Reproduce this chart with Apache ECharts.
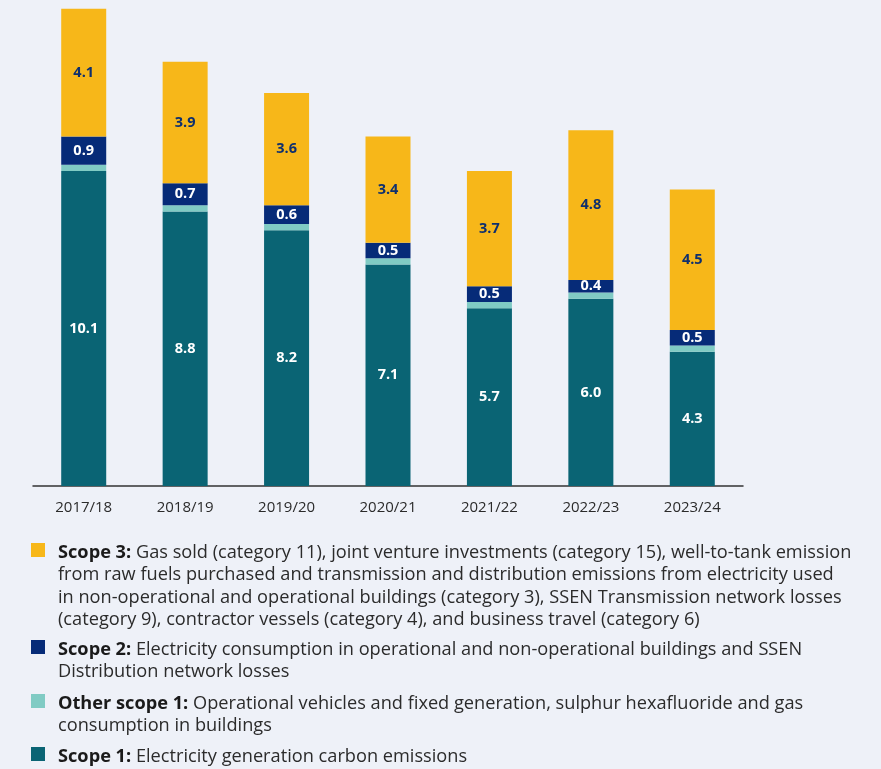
<!DOCTYPE html>
<html lang="en">
<head>
<meta charset="UTF-8">
<title>Emissions</title>
<style type="text/css">
  html, body { margin: 0; padding: 0; background: #eef1f8; }
  #main { width: 881px; height: 769px; }
</style>
<script src="https://cdn.jsdelivr.net/npm/echarts@6/dist/echarts.min.js"></script>
</head>
<body>
<div id="main"></div>
<script type="text/javascript">
var years = ['2017/18', '2018/19', '2019/20', '2020/21', '2021/22', '2022/23', '2023/24'];
var scope1 = [10.1, 8.8, 8.2, 7.1, 5.7, 6.0, 4.3];
var otherScope1 = [0.2, 0.2, 0.2, 0.2, 0.2, 0.2, 0.2];
var scope2 = [0.9, 0.7, 0.6, 0.5, 0.5, 0.4, 0.5];
var scope3 = [4.1, 3.9, 3.6, 3.4, 3.7, 4.8, 4.5];

var legendItems = [
  { color: '#f7b719', bold: 'Scope 3:', text: [
    ' Gas sold (category 11), joint venture investments (category 15), well-to-tank emission',
    'from raw fuels purchased and transmission and distribution emissions from electricity used',
    'in non-operational and operational buildings (category 3), SSEN Transmission network losses',
    '(category 9), contractor vessels (category 4), and business travel (category 6)'], y: 551 },
  { color: '#062b78', bold: 'Scope 2:', text: [
    ' Electricity consumption in operational and non-operational buildings and SSEN',
    'Distribution network losses'], y: 648 },
  { color: '#80cbc4', bold: 'Other scope 1:', text: [
    ' Operational vehicles and fixed generation, sulphur hexafluoride and gas',
    'consumption in buildings'], y: 702 },
  { color: '#0a6474', bold: 'Scope 1:', text: [
    ' Electricity generation carbon emissions'], y: 755 }
];

var font = '"Open Sans", sans-serif';
var graphics = [];
legendItems.forEach(function (it) {
  graphics.push({
    type: 'rect', left: 31, top: it.y - 8,
    shape: { width: 14, height: 14 },
    style: { fill: it.color }
  });
  var str = '{b|' + it.bold + '}{t|' + it.text[0] + '}';
  for (var i = 1; i < it.text.length; i++) str += '\n{t|' + it.text[i] + '}';
  graphics.push({
    type: 'text', left: 58, top: it.y - 7,
    style: {
      text: str,
      rich: {
        b: { fontFamily: font, fontSize: 18.2, fontWeight: 'bold', fill: '#1a1a1a', lineHeight: 22.3 },
        t: { fontFamily: font, fontSize: 18.2, fill: '#2b2b2b', lineHeight: 22.3 }
      }
    }
  });
});

function lbl(color) {
  return { show: true, position: 'inside', color: color, fontFamily: font, fontSize: 14.5, fontWeight: 'bold',
    formatter: function (p) { return p.value.toFixed(1); } };
}

var myChart = echarts.init(document.getElementById('main'));
var option = {
  backgroundColor: '#eef1f8',
  animation: false,
  grid: { left: 33, right: 138, top: 2.4, bottom: 283 },
  xAxis: {
    type: 'category', data: years,
    axisLine: { lineStyle: { color: '#333', width: 1.5 } },
    axisTick: { show: false },
    axisLabel: { color: '#2b2b2b', fontFamily: font, fontSize: 15, margin: 14 }
  },
  yAxis: { type: 'value', min: 0, max: 15.5, show: false, splitLine: { show: false } },
  series: [
    { name: 'Scope 1', type: 'bar', stack: 'a', data: scope1, barWidth: 45,
      itemStyle: { color: '#0a6474' }, label: lbl('#ffffff') },
    { name: 'Other scope 1', type: 'bar', stack: 'a', data: otherScope1,
      itemStyle: { color: '#80cbc4' } },
    { name: 'Scope 2', type: 'bar', stack: 'a', data: scope2,
      itemStyle: { color: '#062b78' }, label: lbl('#ffffff') },
    { name: 'Scope 3', type: 'bar', stack: 'a', data: scope3,
      itemStyle: { color: '#f7b719' }, label: lbl('#0e2f6e') }
  ],
  graphic: graphics
};
myChart.setOption(option);
</script>
</body>
</html>
